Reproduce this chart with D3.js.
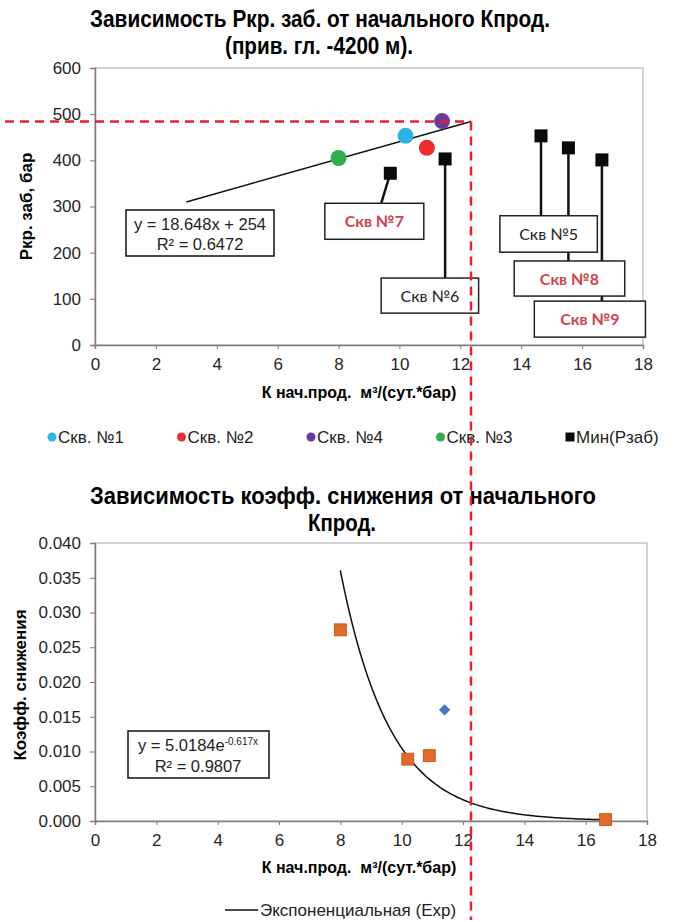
<!DOCTYPE html>
<html>
<head>
<meta charset="utf-8">
<script src="https://cdn.jsdelivr.net/npm/d3@7"></script>
<style>
  body { margin: 0; background: #fff; }
  text { font-family: "Liberation Sans", Arial, sans-serif; }
</style>
</head>
<body>
<div id="chart"></div>
<script>
// ---- top chart: Pкр.заб vs initial Kprod
const wellNames = ["Скв. №1", "Скв. №2", "Скв. №4", "Скв. №3"];
const wellK = [10.2, 10.9, 11.4, 8.0];
const wellP = [453, 427, 485, 405];
const wellColors = ["#2fb3e6", "#ee2a2e", "#6a3b9e", "#2eae4c"];

const minName = "Мин(Рзаб)";
const minLabels = ["Скв №7", "Скв №6", "Скв №5", "Скв №8", "Скв №9"];
const minK = [9.7, 11.5, 14.65, 15.55, 16.65];
const minP = [372, 403, 453, 427, 401];

const linSlope = 18.648;
const linIntercept = 254;
const linRange = [3, 12.35];
const linEqText = "y = 18.648x + 254";
const linR2Text = "R² = 0.6472";

const xTicks = [0, 2, 4, 6, 8, 10, 12, 14, 16, 18];
const topYTicks = [0, 100, 200, 300, 400, 500, 600];

// cut-off marked with red dashes
const cutK = 12.35;
const cutP = 484;

// ---- bottom chart: decline coefficient vs initial Kprod
const declK = [8.0, 10.2, 10.9, 16.65];
const declV = [0.0275, 0.0089, 0.0094, 0.0002];
const extraK = [11.4];
const extraV = [0.016];

const expA = 5.0184;
const expB = -0.617;
const expRange = [8.0, 16.65];
const expEqMain = "y = 5.0184e";
const expEqPow = "-0.617x";
const expR2Text = "R² = 0.9807";
const expLegend = "Экспоненциальная (Exp)";
const botYTicks = [0, 0.005, 0.01, 0.015, 0.02, 0.025, 0.03, 0.035, 0.04];

const xTitle = "К нач.прод.  м³/(сут.*бар)";

const W = 686, H = 922;
const svg = d3.select("#chart").append("svg")
  .attr("width", W).attr("height", H);

function styleAxis(g) {
  g.select(".domain").attr("stroke", "#7d7d7d").attr("stroke-width", 1.5);
  g.selectAll(".tick line").attr("stroke", "#7d7d7d");
  g.selectAll(".tick text").attr("fill", "#262626").style("font-size", "17px");
}

// condensed bold titles
function title(x, y, txt, len) {
  svg.append("text")
    .attr("x", x).attr("y", y).attr("text-anchor", "middle")
    .attr("textLength", len).attr("lengthAdjust", "spacingAndGlyphs")
    .style("font-size", "23px").style("font-weight", "bold")
    .text(txt);
}

// ================= TOP CHART =================
const x1 = d3.scaleLinear().domain([0, 18]).range([95, 643]);
const y1 = d3.scaleLinear().domain([0, 600]).range([345, 68]);

title(320, 27, "Зависимость Ркр. заб. от начального Кпрод.", 460);
title(319, 54, "(прив. гл. -4200 м).", 188);

svg.append("rect")
  .attr("x", x1(0)).attr("y", y1(600))
  .attr("width", x1(18) - x1(0)).attr("height", y1(0) - y1(600))
  .attr("fill", "none").attr("stroke", "#a8a8a8");

svg.append("g").attr("transform", `translate(${x1(0)},0)`)
  .call(d3.axisLeft(y1).tickValues(topYTicks).tickSize(5).tickPadding(9))
  .call(styleAxis);
svg.append("g").attr("transform", `translate(0,${y1(0)})`)
  .call(d3.axisBottom(x1).tickValues(xTicks).tickSize(4).tickPadding(9))
  .call(styleAxis);

svg.append("text")
  .attr("transform", `translate(32,${(y1(0) + y1(600)) / 2}) rotate(-90)`)
  .attr("text-anchor", "middle")
  .style("font-size", "17px").style("font-weight", "bold")
  .text("Ркр. заб, бар");
svg.append("text")
  .attr("x", 359).attr("y", 398).attr("text-anchor", "middle")
  .style("font-size", "16px").style("font-weight", "bold").style("white-space", "pre")
  .text(xTitle);

// linear trend
svg.append("line")
  .attr("x1", x1(linRange[0])).attr("y1", y1(linSlope * linRange[0] + linIntercept))
  .attr("x2", x1(linRange[1])).attr("y2", y1(linSlope * linRange[1] + linIntercept))
  .attr("stroke", "#111").attr("stroke-width", 1.5);

// callout boxes for min pressure wells (data units)
const callouts = [
  { x0: 7.55, x1: 10.8, y0: 307, y1: 229, ax: 9.4, red: true },
  { x0: 9.4, x1: 12.6, y0: 145, y1: 69, ax: 11.5, red: false },
  { x0: 13.3, x1: 16.5, y0: 280, y1: 201, ax: 14.65, red: false },
  { x0: 13.77, x1: 17.4, y0: 182, y1: 106, ax: 15.55, red: true },
  { x0: 14.43, x1: 18.08, y0: 95, y1: 17, ax: 16.65, red: true }
];

svg.append("g").selectAll("line")
  .data(minK)
  .join("line")
  .attr("x1", (d) => x1(d))
  .attr("y1", (d, i) => y1(minP[i]))
  .attr("x2", (d, i) => x1(callouts[i].ax))
  .attr("y2", (d, i) => y1(callouts[i].y0))
  .attr("stroke", "#111").attr("stroke-width", 2.5);

const boxG = svg.append("g").selectAll("g")
  .data(callouts)
  .join("g");
boxG.append("rect")
  .attr("x", (d) => x1(d.x0)).attr("y", (d) => y1(d.y0))
  .attr("width", (d) => x1(d.x1) - x1(d.x0))
  .attr("height", (d) => y1(d.y1) - y1(d.y0))
  .attr("fill", "#fff").attr("stroke", "#222").attr("stroke-width", 1.5);
boxG.append("text")
  .attr("x", (d) => (x1(d.x0) + x1(d.x1)) / 2)
  .attr("y", (d) => (y1(d.y0) + y1(d.y1)) / 2 + 6)
  .attr("text-anchor", "middle")
  .style("font-family", "Lato, 'Open Sans', sans-serif")
  .style("font-size", "16px")
  .style("font-weight", (d) => d.red ? "bold" : "normal")
  .attr("fill", (d) => d.red ? "#d2434b" : "#222")
  .text((d, i) => minLabels[i]);

// equation box
svg.append("rect").attr("x", 126).attr("y", 210).attr("width", 148).attr("height", 46)
  .attr("fill", "#fff").attr("stroke", "#111").attr("stroke-width", 1.5);
svg.append("text").attr("x", 200).attr("y", 230).attr("text-anchor", "middle")
  .style("font-size", "16.5px").attr("fill", "#222").text(linEqText);
svg.append("text").attr("x", 200).attr("y", 250).attr("text-anchor", "middle")
  .style("font-size", "16.5px").attr("fill", "#222").text(linR2Text);

// min pressure squares
svg.append("g").selectAll("rect")
  .data(minK)
  .join("rect")
  .attr("x", (d) => x1(d) - 6.5)
  .attr("y", (d, i) => y1(minP[i]) - 6.5)
  .attr("width", 13).attr("height", 13)
  .attr("fill", "#0a0a0a");

// wells
svg.append("g").selectAll("circle")
  .data(wellK)
  .join("circle")
  .attr("cx", (d) => x1(d))
  .attr("cy", (d, i) => y1(wellP[i]))
  .attr("r", 8)
  .attr("fill", (d, i) => wellColors[i]);

// legend top
const legItems = wellNames.map((n, i) => ({ name: n, color: wellColors[i], x: 52 + i * 129.5, sq: false }))
  .concat([{ name: minName, color: "#0a0a0a", x: 570, sq: true }]);
const leg = svg.append("g").selectAll("g").data(legItems).join("g")
  .attr("transform", (d) => `translate(${d.x},437)`);
leg.filter((d) => !d.sq).append("circle").attr("r", 4.5).attr("fill", (d) => d.color);
leg.filter((d) => d.sq).append("rect").attr("x", -4.5).attr("y", -4.5)
  .attr("width", 9).attr("height", 9).attr("fill", (d) => d.color);
leg.append("text").attr("x", 6).attr("y", 6)
  .style("font-size", "17px").attr("fill", "#222").text((d) => d.name);

// ================= BOTTOM CHART =================
const x2 = d3.scaleLinear().domain([0, 18]).range([95, 647]);
const y2 = d3.scaleLinear().domain([0, 0.04]).range([821, 543]);

title(343, 504, "Зависимость коэфф. снижения от начального", 506);
title(342, 531, "Кпрод.", 68);

svg.append("rect")
  .attr("x", x2(0)).attr("y", y2(0.04))
  .attr("width", x2(18) - x2(0)).attr("height", y2(0) - y2(0.04))
  .attr("fill", "none").attr("stroke", "#a8a8a8");

svg.append("g").attr("transform", `translate(${x2(0)},0)`)
  .call(d3.axisLeft(y2).tickValues(botYTicks).tickFormat(d3.format(".3f")).tickSize(5).tickPadding(9))
  .call(styleAxis);
svg.append("g").attr("transform", `translate(0,${y2(0)})`)
  .call(d3.axisBottom(x2).tickValues(xTicks).tickSize(4).tickPadding(9))
  .call(styleAxis);

svg.append("text")
  .attr("transform", `translate(26,${(y2(0) + y2(0.04)) / 2 + 3}) rotate(-90)`)
  .attr("text-anchor", "middle")
  .style("font-size", "17px").style("font-weight", "bold")
  .text("Коэфф. снижения");
svg.append("text")
  .attr("x", 359).attr("y", 873).attr("text-anchor", "middle")
  .style("font-size", "16px").style("font-weight", "bold").style("white-space", "pre")
  .text(xTitle);

// exponential trend
const expPts = d3.range(expRange[0], expRange[1] + 0.001, 0.05)
  .map((k) => [k, expA * Math.exp(expB * k)]);
svg.append("path")
  .datum(expPts)
  .attr("fill", "none").attr("stroke", "#111").attr("stroke-width", 1.5)
  .attr("d", d3.line().x((d) => x2(d[0])).y((d) => y2(d[1])).curve(d3.curveBasis));

// decline squares
svg.append("g").selectAll("rect")
  .data(declK)
  .join("rect")
  .attr("x", (d) => x2(d) - 6)
  .attr("y", (d, i) => y2(declV[i]) - 6)
  .attr("width", 12).attr("height", 12)
  .attr("fill", "#e26a28").attr("stroke", "#b9521b").attr("stroke-width", 0.8);

// extra diamond
svg.append("g").selectAll("path")
  .data(extraK)
  .join("path")
  .attr("transform", (d, i) => `translate(${x2(d)},${y2(extraV[i])}) rotate(45)`)
  .attr("d", "M-4,-4H4V4H-4Z")
  .attr("fill", "#3f78c4");

// equation box
svg.append("rect").attr("x", 128).attr("y", 731).attr("width", 141).attr("height", 47)
  .attr("fill", "#fff").attr("stroke", "#111").attr("stroke-width", 1.5);
const eq = svg.append("text").attr("x", 198).attr("y", 751).attr("text-anchor", "middle")
  .style("font-size", "16.5px").attr("fill", "#222");
eq.append("tspan").text(expEqMain);
eq.append("tspan").attr("dy", -6).style("font-size", "10px").text(expEqPow);
svg.append("text").attr("x", 198).attr("y", 772).attr("text-anchor", "middle")
  .style("font-size", "16.5px").attr("fill", "#222").text(expR2Text);

// legend bottom
svg.append("line").attr("x1", 225).attr("x2", 258).attr("y1", 910).attr("y2", 910)
  .attr("stroke", "#111").attr("stroke-width", 1.5);
svg.append("text").attr("x", 260).attr("y", 916)
  .style("font-size", "17px").attr("fill", "#222").text(expLegend);

// ================= red cut-off dashes =================
svg.append("line")
  .attr("x1", 5).attr("x2", x1(cutK))
  .attr("y1", y1(cutP)).attr("y2", y1(cutP))
  .attr("stroke", "#e8202a").attr("stroke-width", 2.5).attr("stroke-dasharray", "9,6");
svg.append("line")
  .attr("x1", x1(cutK)).attr("x2", x1(cutK))
  .attr("y1", y1(cutP)).attr("y2", 920)
  .attr("stroke", "#e8202a").attr("stroke-width", 2.5).attr("stroke-dasharray", "9,6");
</script>
</body>
</html>
